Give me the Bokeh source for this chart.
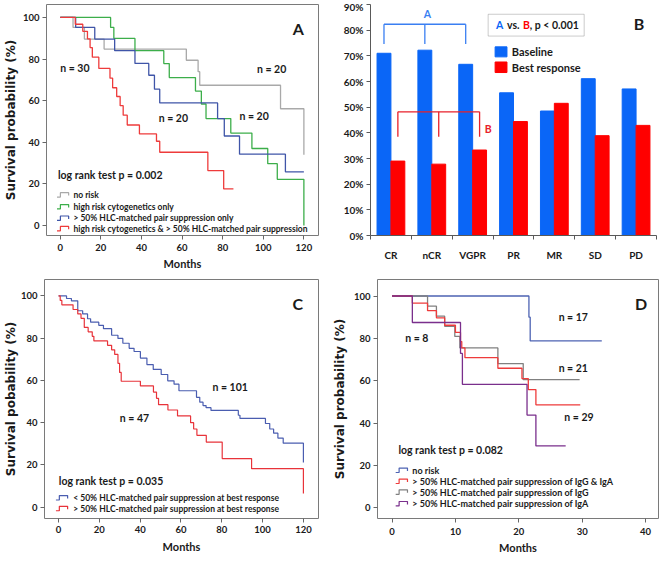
import numpy as np
from bokeh.plotting import figure
from bokeh.models import FixedTicker, PrintfTickFormatter, Range1d, BoxAnnotation
from bokeh.layouts import column, row
from bokeh.embed import file_html
from bokeh.resources import INLINE
from bokeh.core.properties import value

# ------------------------------------------------------------------ data
# Panel A : Kaplan-Meier, months vs survival (%)
a_labels = ["no risk", "high risk cytogenetics only",
            "> 50% HLC-matched pair suppression only",
            "high risk cytogenetics & > 50% HLC-matched pair suppression"]
a_norisk_t = [0, 6.3, 11.9, 21.6, 62.1, 67.9, 68.7, 108.5, 120]
a_norisk_s = [100, 95.2, 89.6, 84.8, 79.4, 73.9, 67.4, 56.1, 34.0]
a_hrc_t = [0, 24.8, 26.4, 36.8, 51.0, 53.7, 66.6, 69.5, 71.8, 84.0, 94.4, 102.2, 106.9, 120]
a_hrc_s = [100, 95.2, 89.9, 84.0, 77.8, 71.1, 64.6, 58.4, 51.4, 44.4, 37.0, 29.7, 22.2, 0.0]
a_hlc_t = [0, 7.6, 17.0, 26.8, 36.8, 43.6, 46.4, 49.0, 77.5, 80.8, 88.3, 110.9, 120]
a_hlc_s = [100, 95.2, 89.6, 84.0, 77.9, 72.2, 65.5, 58.9, 51.4, 43.0, 34.3, 25.8, 25.8]
a_both_t = [0, 7.4, 11.1, 13.4, 14.7, 15.8, 19.0, 24.5, 25.8, 27.8, 29.5, 31.0, 33.0,
            39.0, 47.4, 49.0, 72.7, 80.5, 85.3]
a_both_s = [100, 96.7, 93.3, 89.7, 85.5, 80.9, 75.5, 70.8, 66.2, 62.0, 57.6, 53.0, 48.3,
            44.0, 40.5, 35.2, 26.4, 17.6, 17.6]
a_pvalue = "log rank test p = 0.002"

# Panel B : proportion of patients, baseline vs best response
b_categories = ["CR", "nCR", "VGPR", "PR", "MR", "SD", "PD"]
b_baseline = [71.0, 72.2, 66.7, 55.6, 48.5, 61.1, 57.1]
b_best = [29.0, 27.8, 33.3, 44.4, 51.5, 38.9, 42.9]
b_series = ["Baseline", "Best response"]

# Panel C
c_labels = ["< 50% HLC-matched pair suppression at best response",
            "> 50% HLC-matched pair suppression at best response"]
c_low_t = [0, 3.9, 6.3, 9.4, 11.8, 14.2, 15.7, 19.7, 22.0, 26.0, 29.1, 31.5, 34.6, 37.0,
           40.1, 43.3, 46.4, 50.3, 53.5, 56.6, 59.0, 67.6, 69.2, 70.8, 72.3, 74.7, 88.1,
           88.9, 101.4, 103.5, 105.4, 107.5, 110.1, 120]
c_low_s = [100, 98.8, 97.7, 93.0, 91.5, 89.2, 87.6, 86.1, 84.5, 81.4, 79.9, 77.6, 75.2, 73.7,
           70.6, 67.5, 65.2, 62.8, 59.8, 58.2, 55.1, 52.0, 49.7, 48.1, 47.1, 45.8, 43.5,
           42.0, 39.6, 37.0, 35.0, 32.7, 30.3, 21.1]
c_high_t = [0, 0.8, 1.6, 7.1, 9.4, 11.0, 12.6, 14.5, 16.5, 17.3, 24.0, 26.0, 27.5, 29.1,
            29.9, 30.7, 40.1, 46.5, 48.0, 49.0, 53.6, 58.3, 64.7, 66.2, 67.8, 72.4, 80.2,
            94.6, 120]
c_high_s = [100, 97.9, 95.8, 93.6, 91.5, 89.4, 85.1, 83.0, 80.9, 78.7, 76.6, 74.5, 72.3, 68.1,
            63.8, 59.6, 57.4, 54.5, 51.5, 48.5, 46.0, 43.2, 40.0, 37.0, 34.0, 30.8, 23.0,
            18.2, 6.5]
c_pvalue = "log rank test p = 0.035"

# Panel D
d_labels = ["no risk", "> 50% HLC-matched pair suppression of IgG & IgA",
            "> 50% HLC-matched pair suppression of IgG",
            "> 50% HLC-matched pair suppression of IgA"]
d_norisk_t = [0, 21.6, 21.8, 33.1]
d_norisk_s = [100, 90.0, 78.8, 78.8]
d_both_t = [0, 3.2, 5.6, 7.0, 8.3, 10.0, 10.8, 11.0, 11.5, 16.7, 20.5, 21.5, 22.7, 29.7]
d_both_s = [100, 96.6, 93.1, 89.7, 86.2, 82.8, 78.5, 75.5, 70.9, 65.9, 61.0, 55.8, 48.6, 48.6]
d_igg_t = [0, 5.6, 7.0, 8.3, 9.9, 10.7, 16.7, 20.7, 29.6]
d_igg_s = [100, 95.2, 90.5, 85.7, 80.9, 75.5, 68.1, 60.5, 60.5]
d_iga_t = [0, 3.2, 10.8, 11.1, 21.3, 22.7, 27.4]
d_iga_s = [100, 87.5, 72.9, 58.3, 43.8, 29.2, 29.2]
d_pvalue = "log rank test p = 0.082"

# ------------------------------------------------------------------ styling
FONT = "Lato"
YFONT = "DejaVu Sans"
TXT = "#1a1a1a"
NSIZE = "10.5px"


def km_fig(w, h, xr, yr, bl, br, bt, bb, xticks, ylabel,
           lab_standoff=4, xlab_standoff=3, ylab_standoff=2):
    p = figure(width=w, height=h, x_range=Range1d(*xr), y_range=Range1d(*yr),
               output_backend="svg", toolbar_location=None,
               min_border_left=bl, min_border_right=br,
               min_border_top=bt, min_border_bottom=bb)
    p.xgrid.visible = False
    p.ygrid.visible = False
    p.outline_line_color = "#7a7a7a"
    p.outline_line_width = 1
    p.background_fill_color = "white"
    p.border_fill_color = "white"
    for ax in (p.xaxis[0], p.yaxis[0]):
        ax.axis_line_color = None
        ax.major_tick_out = 4
        ax.major_tick_in = 0
        ax.minor_tick_out = 0
        ax.minor_tick_in = 0
        ax.major_tick_line_color = "#666666"
        ax.major_label_text_font = FONT
        ax.major_label_text_font_style = "bold"
        ax.major_label_text_font_size = "9.5px"
        ax.major_label_text_color = TXT
        ax.axis_label_text_font_style = "bold"
        ax.axis_label_text_color = TXT
    p.xaxis.major_label_standoff = lab_standoff
    p.yaxis.major_label_standoff = 3
    p.xaxis.ticker = FixedTicker(ticks=xticks)
    p.yaxis.ticker = FixedTicker(ticks=[0, 20, 40, 60, 80, 100])
    p.xaxis.axis_label = "Months"
    p.xaxis.axis_label_text_font = FONT
    p.xaxis.axis_label_text_font_size = "11px"
    p.xaxis.axis_label_standoff = xlab_standoff
    p.yaxis.axis_label = ylabel
    p.yaxis.axis_label_text_font = YFONT
    p.yaxis.axis_label_text_font_size = "12px"
    p.yaxis.axis_label_standoff = ylab_standoff
    return p


def px_scale(p, w, h, bl, br, bt, bb):
    fw = w - bl - br
    fh = h - bt - bb
    sx = fw / (p.x_range.end - p.x_range.start)
    sy = fh / (p.y_range.end - p.y_range.start)
    return sx, sy


def km_legend(p, sx, sy, x_icon, x_text, ys, colors, labels, size="8.5px"):
    icon_dx = np.array([0, 3.5, 3.5, 12, 12]) / sx
    icon_dy = np.array([-2, -2, 2.5, 2.5, -0.5]) / sy
    xs = [list(x_icon + icon_dx) for _ in ys]
    yy = [list(y + icon_dy) for y in ys]
    p.multi_line(xs=xs, ys=yy, line_color=colors, line_width=1.2)
    p.text(x=[x_text] * len(ys), y=ys, text=labels, text_font=value(FONT),
           text_font_style="bold", text_font_size=size, text_color=TXT,
           text_align="left", text_baseline="middle")


def txt(p, x, y, s, size=NSIZE, align="center", color=TXT):
    p.text(x=[x], y=[y], text=[s], text_font=value(FONT), text_font_style="bold",
           text_font_size=size, text_color=color, text_align=align,
           text_baseline="middle")


# ------------------------------------------------------------------ Panel A
WA, HA, BLA, BRA, BTA, BBA = 329, 276, 38, 11, 1, 40
pA = km_fig(WA, HA, (-6.77, 127.2), (-4.8, 106.2), BLA, BRA, BTA, BBA,
            [0, 20, 40, 60, 80, 100, 120], "Survival probability (%)",
            lab_standoff=4, xlab_standoff=3, ylab_standoff=2)
sxA, syA = px_scale(pA, WA, HA, BLA, BRA, BTA, BBA)
a_colors = ["#a9a9a9", "#3cae4a", "#3f55a8", "#ee3b3b"]
for t, s, c in [(a_norisk_t, a_norisk_s, a_colors[0]), (a_hrc_t, a_hrc_s, a_colors[1]),
                (a_hlc_t, a_hlc_s, a_colors[2]), (a_both_t, a_both_s, a_colors[3])]:
    pA.step(x=t, y=s, mode="after", line_color=c, line_width=1.3)
txt(pA, 7.2, 75.8, "n = 30")
txt(pA, 104.1, 75.3, "n = 20")
txt(pA, 55.7, 51.6, "n = 20")
txt(pA, 95.5, 52.5, "n = 20")
txt(pA, 117.3, 94.9, "A", size="16px")
txt(pA, -1.1, 24.5, a_pvalue, align="left")
km_legend(pA, sxA, syA, -1.6, 6.5, [14.6, 8.9, 3.4, -1.6], a_colors, a_labels)

# ------------------------------------------------------------------ Panel B
WB, HB, BLB, BRB, BTB, BBB = 330, 276, 41, 3, 4, 41
pB = figure(width=WB, height=HB, x_range=Range1d(0, len(b_categories)),
            y_range=Range1d(0, 90), output_backend="svg", toolbar_location=None,
            min_border_left=BLB, min_border_right=BRB, min_border_top=BTB,
            min_border_bottom=BBB)
pB.xgrid.visible = False
pB.ygrid.visible = False
pB.outline_line_color = None
pB.background_fill_color = "white"
pB.border_fill_color = "white"
BLUE, RED = "#0a66f7", "#ff0000"
centers = np.arange(len(b_categories)) + 0.5
bx = centers - 0.17
rx = centers + 0.17
pB.vbar(x=bx, top=b_baseline, width=0.34, color=BLUE)
pB.vbar(x=rx, top=b_best, width=0.34, color=RED)
for ax in (pB.xaxis[0], pB.yaxis[0]):
    ax.axis_line_color = "#595959"
    ax.major_tick_line_color = "#595959"
    ax.minor_tick_line_color = "#595959"
    ax.major_label_text_font = FONT
    ax.major_label_text_font_style = "bold"
    ax.major_label_text_font_size = "10px"
    ax.major_label_text_color = TXT
pB.yaxis.ticker = FixedTicker(ticks=list(range(0, 91, 10)))
pB.yaxis.formatter = PrintfTickFormatter(format="%d%%")
pB.yaxis.major_tick_out = 4
pB.yaxis.major_tick_in = 0
pB.yaxis.major_label_standoff = 3
pB.xaxis.ticker = FixedTicker(ticks=list(centers), minor_ticks=list(range(len(b_categories) + 1)))
pB.xaxis.major_label_overrides = {float(c): lab for c, lab in zip(centers, b_categories)}
pB.xaxis.major_tick_out = 0
pB.xaxis.major_tick_in = 0
pB.xaxis.minor_tick_out = 4
pB.xaxis.minor_tick_in = 0
pB.xaxis.major_label_standoff = 9

# brackets
hA, lA = 82.3, 74.6
pB.multi_line(xs=[[bx[0], bx[2]], [bx[0], bx[0]], [bx[1], bx[1]], [bx[2], bx[2]]],
              ys=[[hA, hA], [hA, lA], [hA, lA], [hA, lA]], line_color="#3a7ff2", line_width=1.3)
hB, lB = 48.2, 38.5
pB.multi_line(xs=[[rx[0], rx[2]], [rx[0], rx[0]], [rx[1], rx[1]], [rx[2], rx[2]]],
              ys=[[hB, hB], [hB, lB], [hB, lB], [hB, lB]], line_color="#e8202a", line_width=1.3)
txt(pB, 1.39, 86.4, "A", size="10.5px", color="#3a7ff2")
txt(pB, 2.88, 41.3, "B", size="10.5px", color="#e8202a")
# p-value box
pB.add_layout(BoxAnnotation(left=2.88, right=5.23, bottom=77.7, top=86.2,
                            fill_alpha=0, line_color="#555555", line_width=1))
ty = 81.9
txt(pB, 3.07, ty, "A", size="10.5px", align="left", color=BLUE)
txt(pB, 3.34, ty, "vs.", size="10.5px", align="left")
txt(pB, 3.73, ty, "B", size="10.5px", align="left", color=RED)
txt(pB, 3.90, ty, ", p < 0.001", size="10.5px", align="left")
# series legend
pB.quad(left=[3.05, 3.05], right=[3.34, 3.34], bottom=[69.6, 63.5], top=[73.5, 67.6],
        color=[BLUE, RED])
pB.text(x=[3.46, 3.46], y=[71.5, 65.5], text=b_series, text_font=value(FONT),
        text_font_style="bold", text_font_size="11px", text_color=TXT,
        text_align="left", text_baseline="middle")
txt(pB, 6.57, 82.7, "B", size="16px")

# ------------------------------------------------------------------ Panel C
WC, HC, BLC, BRC, BTC, BBC = 329, 280, 37, 11, 3, 36
pC = km_fig(WC, HC, (-6.9, 127.4), (-5.4, 107.8), BLC, BRC, BTC, BBC,
            [0, 20, 40, 60, 80, 100, 120], "Survival pobability (%)",
            lab_standoff=3, xlab_standoff=4, ylab_standoff=0)
sxC, syC = px_scale(pC, WC, HC, BLC, BRC, BTC, BBC)
c_colors = ["#4a5db0", "#e8333a"]
pC.step(x=c_low_t, y=c_low_s, mode="after", line_color=c_colors[0], line_width=1.2)
pC.step(x=c_high_t, y=c_high_s, mode="after", line_color=c_colors[1], line_width=1.2)
txt(pC, 84.1, 56.8, "n = 101")
txt(pC, 37.2, 42.4, "n = 47")
txt(pC, 117.2, 96.4, "C", size="16px")
txt(pC, 0.1, 12.2, c_pvalue, align="left")
km_legend(pC, sxC, syC, -1.3, 7.2, [4.3, -0.8], c_colors, c_labels)

# ------------------------------------------------------------------ Panel D
WD, HD, BLD, BRD, BTD, BBD = 330, 280, 43, 1, 2, 36
pD = km_fig(WD, HD, (-2.3, 42.05), (-5.06, 107.8), BLD, BRD, BTD, BBD,
            [0, 10, 20, 30, 40], "Survival probability (%)",
            lab_standoff=5, xlab_standoff=3, ylab_standoff=4)
sxD, syD = px_scale(pD, WD, HD, BLD, BRD, BTD, BBD)
d_colors = ["#4d63b3", "#ee3b3b", "#808080", "#7a2f8c"]
for t, s, c in [(d_norisk_t, d_norisk_s, d_colors[0]), (d_igg_t, d_igg_s, d_colors[2]),
                (d_both_t, d_both_s, d_colors[1]), (d_iga_t, d_iga_s, d_colors[3])]:
    pD.step(x=t, y=s, mode="after", line_color=c, line_width=1.3)
txt(pD, 28.6, 89.9, "n = 17")
txt(pD, 3.9, 80.2, "n = 8")
txt(pD, 28.6, 66.0, "n = 21")
txt(pD, 29.5, 42.9, "n = 29")
txt(pD, 39.3, 96.3, "D", size="16px")
txt(pD, 1.0, 27.3, d_pvalue, align="left")
km_legend(pD, sxD, syD, 0.57, 3.2, [17.6, 12.4, 7.3, 1.8], d_colors, d_labels, size="9px")

layout = column(row(pA, pB), row(pC, pD))
open("out.html", "w").write(file_html(layout, INLINE))
